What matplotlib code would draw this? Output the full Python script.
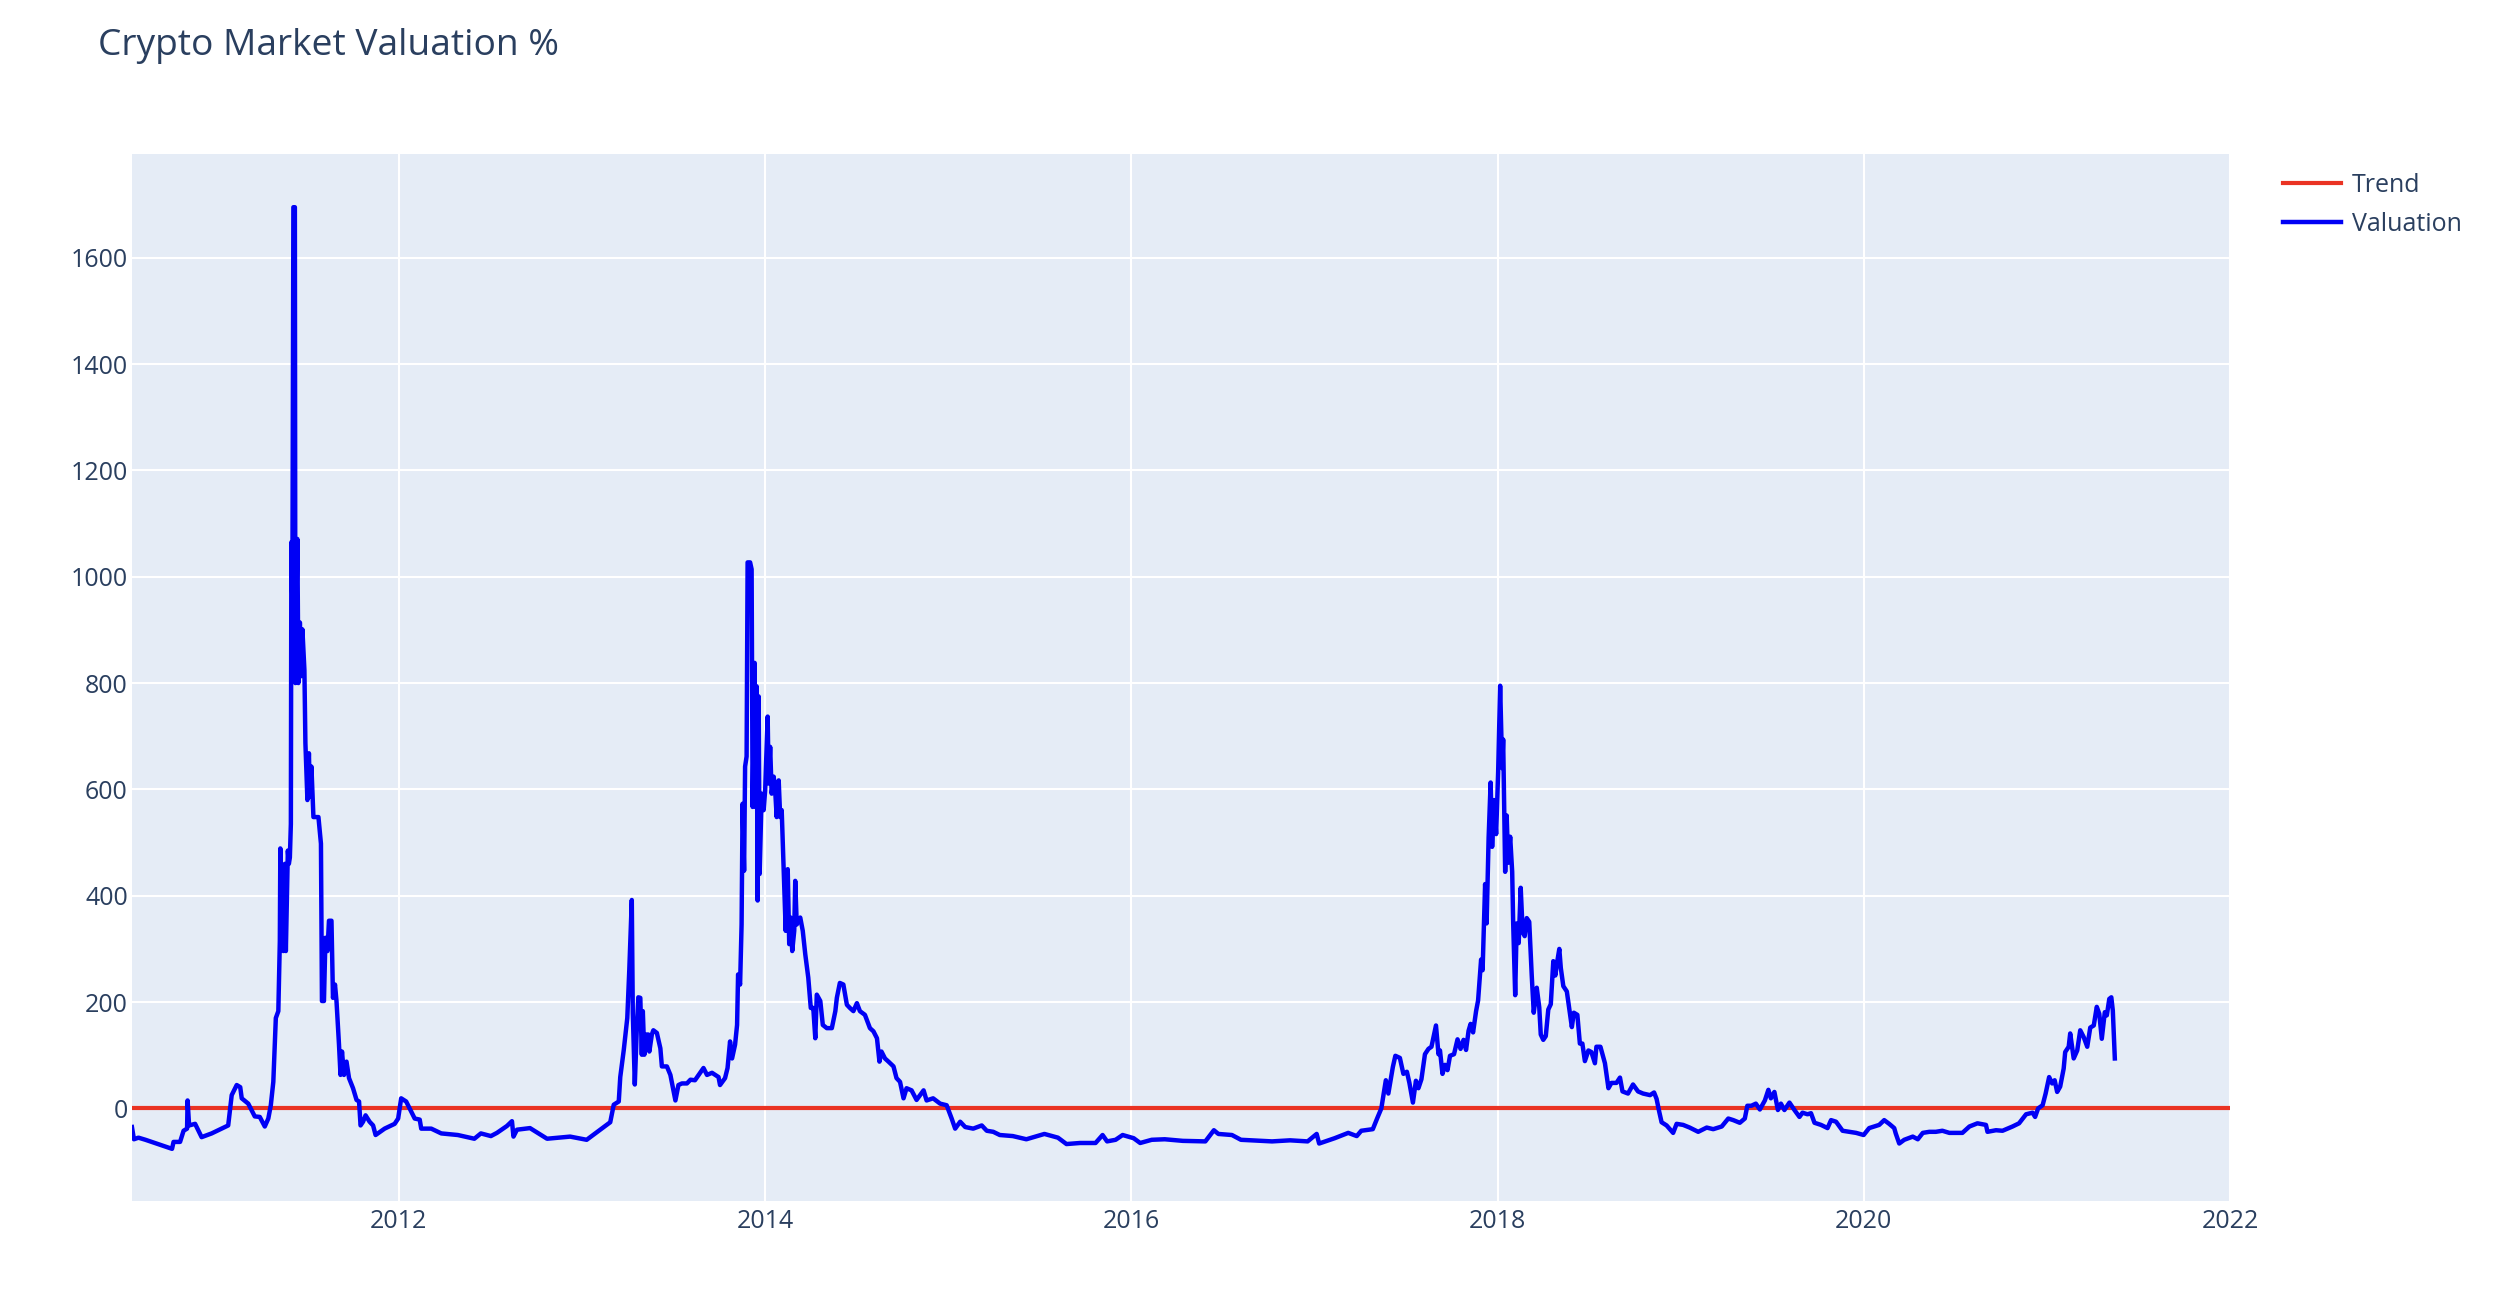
import pandas as pd
import matplotlib.pyplot as plt
import matplotlib.dates as mdates
from matplotlib.ticker import FixedLocator

plt.rcParams['font.family'] = ['Open Sans', 'DejaVu Sans']

# valuation % (date, value)
val_dates = [
    "2010-07-18", "2010-07-22", "2010-07-31", "2010-08-14", "2010-10-06", "2010-10-09", "2010-10-22",
    "2010-10-29", "2010-11-05", "2010-11-06", "2010-11-09", "2010-11-21", "2010-12-04", "2010-12-24",
    "2011-01-13", "2011-01-26", "2011-02-02", "2011-02-12", "2011-02-19", "2011-02-22", "2011-03-07",
    "2011-03-20", "2011-03-30", "2011-04-09", "2011-04-16", "2011-04-21", "2011-04-26", "2011-04-29",
    "2011-05-01", "2011-05-06", "2011-05-09", "2011-05-10", "2011-05-16", "2011-05-19", "2011-05-21",
    "2011-05-25", "2011-05-27", "2011-05-29", "2011-05-31", "2011-06-01", "2011-06-03", "2011-06-05",
    "2011-06-08", "2011-06-09", "2011-06-13", "2011-06-15", "2011-06-18", "2011-06-21", "2011-06-23",
    "2011-06-27", "2011-06-29", "2011-07-03", "2011-07-06", "2011-07-08", "2011-07-11", "2011-07-15",
    "2011-07-25", "2011-07-30", "2011-08-01", "2011-08-05", "2011-08-08", "2011-08-12", "2011-08-15",
    "2011-08-20", "2011-08-23", "2011-08-27", "2011-08-30", "2011-09-04", "2011-09-07", "2011-09-10",
    "2011-09-14", "2011-09-19", "2011-09-24", "2011-10-02", "2011-10-09", "2011-10-14", "2011-10-17",
    "2011-10-22", "2011-10-27", "2011-11-04", "2011-11-11", "2011-11-16", "2011-12-04", "2011-12-24",
    "2011-12-31", "2012-01-06", "2012-01-16", "2012-01-23", "2012-02-02", "2012-02-12", "2012-02-15",
    "2012-03-06", "2012-03-26", "2012-04-28", "2012-05-31", "2012-06-13", "2012-07-03", "2012-07-15",
    "2012-08-04", "2012-08-14", "2012-08-17", "2012-08-24", "2012-09-19", "2012-10-23", "2012-12-08",
    "2013-01-10", "2013-02-06", "2013-02-26", "2013-03-05", "2013-03-15", "2013-03-18", "2013-03-25",
    "2013-04-01", "2013-04-05", "2013-04-10", "2013-04-12", "2013-04-16", "2013-04-20", "2013-04-23",
    "2013-04-27", "2013-04-30", "2013-05-02", "2013-05-05", "2013-05-07", "2013-05-13", "2013-05-15",
    "2013-05-20", "2013-05-23", "2013-05-30", "2013-06-06", "2013-06-09", "2013-06-19", "2013-06-26",
    "2013-07-06", "2013-07-12", "2013-07-19", "2013-07-29", "2013-08-05", "2013-08-14", "2013-08-31",
    "2013-09-07", "2013-09-17", "2013-09-30", "2013-10-03", "2013-10-13", "2013-10-18", "2013-10-23",
    "2013-10-27", "2013-11-02", "2013-11-06", "2013-11-08", "2013-11-12", "2013-11-15", "2013-11-17",
    "2013-11-20", "2013-11-22", "2013-11-25", "2013-11-27", "2013-12-02", "2013-12-05", "2013-12-07",
    "2013-12-11", "2013-12-13", "2013-12-15", "2013-12-17", "2013-12-19", "2013-12-21", "2013-12-25",
    "2013-12-29", "2014-01-01", "2014-01-06", "2014-01-08", "2014-01-11", "2014-01-14", "2014-01-18",
    "2014-01-21", "2014-01-24", "2014-01-28", "2014-01-31", "2014-02-03", "2014-02-08", "2014-02-11",
    "2014-02-15", "2014-02-18", "2014-02-21", "2014-02-24", "2014-02-28", "2014-03-02", "2014-03-05",
    "2014-03-12", "2014-03-17", "2014-03-22", "2014-03-28", "2014-04-02", "2014-04-07", "2014-04-11",
    "2014-04-14", "2014-04-21", "2014-04-26", "2014-05-04", "2014-05-14", "2014-05-21", "2014-05-24",
    "2014-05-30", "2014-06-06", "2014-06-13", "2014-06-19", "2014-06-26", "2014-07-03", "2014-07-09",
    "2014-07-19", "2014-07-29", "2014-08-05", "2014-08-12", "2014-08-17", "2014-08-21", "2014-08-28",
    "2014-09-04", "2014-09-14", "2014-09-20", "2014-09-27", "2014-10-04", "2014-10-10", "2014-10-20",
    "2014-10-30", "2014-11-13", "2014-11-19", "2014-12-02", "2014-12-16", "2014-12-29", "2015-01-08",
    "2015-01-15", "2015-01-25", "2015-02-04", "2015-02-20", "2015-03-09", "2015-03-19", "2015-04-01",
    "2015-04-14", "2015-05-10", "2015-06-06", "2015-07-12", "2015-08-08", "2015-08-25", "2015-09-21",
    "2015-10-22", "2015-11-05", "2015-11-14", "2015-12-01", "2015-12-15", "2016-01-06", "2016-01-19",
    "2016-02-11", "2016-03-08", "2016-04-13", "2016-05-28", "2016-06-14", "2016-06-23", "2016-07-20",
    "2016-08-07", "2016-10-08", "2016-11-13", "2016-12-18", "2017-01-05", "2017-01-10", "2017-02-10",
    "2017-03-09", "2017-03-26", "2017-04-04", "2017-04-27", "2017-05-06", "2017-05-14", "2017-05-23",
    "2017-05-28", "2017-06-06", "2017-06-11", "2017-06-20", "2017-06-27", "2017-07-04", "2017-07-09",
    "2017-07-16", "2017-07-22", "2017-07-27", "2017-08-02", "2017-08-09", "2017-08-16", "2017-08-22",
    "2017-08-31", "2017-09-05", "2017-09-08", "2017-09-13", "2017-09-18", "2017-09-23", "2017-09-28",
    "2017-10-06", "2017-10-13", "2017-10-19", "2017-10-25", "2017-10-30", "2017-11-04", "2017-11-08",
    "2017-11-13", "2017-11-19", "2017-11-23", "2017-11-29", "2017-12-02", "2017-12-07", "2017-12-10",
    "2017-12-14", "2017-12-18", "2017-12-21", "2017-12-25", "2017-12-29", "2018-01-02", "2018-01-06",
    "2018-01-10", "2018-01-12", "2018-01-16", "2018-01-19", "2018-01-22", "2018-01-26", "2018-01-30",
    "2018-02-01", "2018-02-05", "2018-02-08", "2018-02-12", "2018-02-16", "2018-02-20", "2018-02-24",
    "2018-02-28", "2018-03-05", "2018-03-10", "2018-03-14", "2018-03-20", "2018-03-25", "2018-03-28",
    "2018-04-02", "2018-04-07", "2018-04-12", "2018-04-17", "2018-04-22", "2018-04-26", "2018-04-30",
    "2018-05-04", "2018-05-07", "2018-05-12", "2018-05-19", "2018-05-24", "2018-05-29", "2018-06-02",
    "2018-06-09", "2018-06-14", "2018-06-19", "2018-06-24", "2018-07-01", "2018-07-07", "2018-07-14",
    "2018-07-17", "2018-07-25", "2018-08-03", "2018-08-10", "2018-08-16", "2018-08-26", "2018-09-02",
    "2018-09-07", "2018-09-18", "2018-09-28", "2018-10-08", "2018-10-18", "2018-11-01", "2018-11-09",
    "2018-11-14", "2018-11-19", "2018-11-24", "2018-12-04", "2018-12-17", "2018-12-24", "2019-01-06",
    "2019-01-19", "2019-02-05", "2019-02-22", "2019-03-07", "2019-03-24", "2019-04-06", "2019-04-16",
    "2019-04-29", "2019-05-09", "2019-05-14", "2019-05-22", "2019-05-31", "2019-06-08", "2019-06-18",
    "2019-06-25", "2019-06-30", "2019-07-07", "2019-07-14", "2019-07-20", "2019-07-27", "2019-08-06",
    "2019-08-16", "2019-08-26", "2019-09-01", "2019-09-11", "2019-09-18", "2019-09-25", "2019-10-08",
    "2019-10-21", "2019-10-28", "2019-11-07", "2019-11-20", "2019-12-03", "2019-12-17", "2020-01-01",
    "2020-01-12", "2020-01-22", "2020-02-01", "2020-02-11", "2020-02-21", "2020-03-02", "2020-03-05",
    "2020-03-12", "2020-03-22", "2020-04-08", "2020-04-18", "2020-04-28", "2020-05-11", "2020-05-24",
    "2020-06-06", "2020-06-20", "2020-07-16", "2020-07-30", "2020-08-15", "2020-09-01", "2020-09-04",
    "2020-09-21", "2020-10-04", "2020-10-24", "2020-11-06", "2020-11-20", "2020-12-03", "2020-12-08",
    "2020-12-14", "2020-12-23", "2020-12-29", "2021-01-05", "2021-01-11", "2021-01-16", "2021-01-21",
    "2021-01-27", "2021-02-03", "2021-02-06", "2021-02-13", "2021-02-16", "2021-02-23", "2021-03-02",
    "2021-03-08", "2021-03-15", "2021-03-22", "2021-03-28", "2021-04-04", "2021-04-10", "2021-04-15",
    "2021-04-20", "2021-04-26", "2021-04-30", "2021-05-05", "2021-05-09", "2021-05-12", "2021-05-16",
]
val_pct = [
    -35, -58, -55, -59, -76, -63, -63,
    -42, -38, 15, -32, -29, -54, -47,
    -38, -32, 25, 44, 40, 19, 9,
    -15, -16, -34, -19, 6, 50, 120,
    170, 183, 315, 489, 296, 460, 296,
    485, 460, 472, 535, 1065, 951, 1695,
    1695, 800, 1071, 800, 914, 813, 901,
    825, 687, 580, 668, 586, 643, 548,
    548, 498, 202, 202, 321, 296, 353,
    353, 208, 233, 202, 120, 63, 107,
    63, 88, 57, 38, 16, 13, -32,
    -25, -13, -25, -32, -50, -38, -29,
    -19, 19, 13, 0, -19, -21, -38,
    -38, -47, -50, -57, -47, -52, -46,
    -33, -24, -53, -40, -37, -57, -53,
    -59, -40, -26, 7, 13, 59, 110,
    170, 260, 392, 180, 45, 150, 209,
    208, 101, 183, 101, 139, 139, 107,
    139, 147, 142, 113, 79, 79, 63,
    15, 44, 47, 47, 54, 53, 76,
    63, 67, 59, 44, 57, 76, 126,
    94, 120, 157, 252, 233, 346, 573,
    447, 643, 662, 1027, 1027, 1014, 567,
    838, 567, 794, 391, 775, 441, 592,
    561, 598, 737, 611, 680, 592, 624,
    598, 548, 617, 548, 561, 416, 334,
    450, 309, 359, 296, 334, 428, 346,
    359, 334, 290, 246, 189, 189, 132,
    214, 202, 157, 151, 151, 183, 208,
    236, 233, 195, 189, 183, 198, 183,
    176, 151, 145, 132, 88, 107, 94,
    88, 79, 57, 50, 19, 38, 34,
    16, 34, 15, 19, 9, 6, -19,
    -38, -25, -35, -38, -32, -42, -44,
    -50, -52, -58, -48, -55, -67, -65,
    -65, -50, -62, -59, -50, -56, -65,
    -59, -58, -61, -62, -41, -48, -50,
    -59, -62, -60, -62, -48, -66, -56,
    -46, -52, -42, -39, -18, 0, 53,
    28, 78, 99, 95, 65, 69, 48,
    11, 52, 38, 55, 102, 112, 116,
    156, 102, 109, 65, 82, 72, 99,
    102, 130, 112, 129, 110, 146, 159,
    143, 183, 203, 280, 260, 422, 348,
    509, 613, 492, 580, 516, 633, 795,
    640, 694, 445, 551, 462, 511, 445,
    348, 213, 348, 311, 415, 331, 324,
    358, 351, 250, 180, 227, 190, 139,
    129, 136, 186, 196, 277, 250, 277,
    300, 264, 230, 220, 186, 153, 180,
    176, 122, 122, 89, 109, 106, 85,
    116, 116, 85, 38, 48, 48, 58,
    32, 28, 45, 32, 28, 25, 30,
    18, -5, -26, -32, -46, -29, -31,
    -36, -44, -36, -39, -34, -19, -22,
    -27, -19, 5, 5, 9, -2, 15,
    35, 19, 31, -3, 9, -3, 11,
    -3, -16, -8, -11, -9, -27, -31,
    -37, -22, -25, -42, -44, -46, -50,
    -37, -34, -31, -22, -29, -37, -47,
    -66, -59, -53, -58, -46, -44, -44,
    -42, -46, -46, -34, -28, -31, -44,
    -41, -42, -34, -28, -11, -8, -16,
    0, 6, 28, 59, 47, 53, 31,
    41, 75, 106, 116, 141, 94, 109,
    147, 134, 116, 152, 156, 191, 178,
    131, 181, 175, 206, 209, 184, 94,
]

trend_dates = ["2010-07-18", "2022-01-01"]
trend_pct = [0, 0]

x_ticks = ["2012", "2014", "2016", "2018", "2020", "2022"]
y_ticks = [0, 200, 400, 600, 800, 1000, 1200, 1400, 1600]

txt = '#2a3f5f'

fig = plt.figure(figsize=(24.94, 13), dpi=100)
ax = fig.add_axes([0.0529, 0.0762, 0.8413, 0.8053])
ax.set_facecolor('#E5ECF6')

ax.plot(pd.to_datetime(trend_dates), trend_pct, color='#EA3323', lw=3, label='Trend', zorder=3)
ax.plot(pd.to_datetime(val_dates), val_pct, color='#0000F5', lw=3.2, label='Valuation', zorder=4)

ax.set_xlim(pd.Timestamp(trend_dates[0]), pd.Timestamp(trend_dates[-1]))
ax.set_ylim(-174, 1795)

ax.xaxis.set_major_locator(FixedLocator(mdates.date2num(pd.to_datetime(x_ticks))))
ax.xaxis.set_major_formatter(mdates.DateFormatter('%Y'))
ax.set_yticks(y_ticks)

ax.grid(True, color='white', lw=1.5)
ax.set_axisbelow(True)
for s in ax.spines.values():
    s.set_visible(False)
ax.tick_params(axis='both', length=0, labelsize=18, labelcolor=txt)
ax.tick_params(axis='x', pad=6)
ax.tick_params(axis='y', pad=3)

fig.text(0.0393, 0.965, 'Crypto Market Valuation %', fontsize=26.7, color=txt, va='center', ha='left')

fig.legend(loc='upper left', bbox_to_anchor=(0.9154, 0.867), frameon=False,
           fontsize=18, labelcolor=txt, handlelength=2.3, handletextpad=0.45,
           labelspacing=0.55, borderpad=0, borderaxespad=0)

fig.savefig('out.png', dpi=100)
